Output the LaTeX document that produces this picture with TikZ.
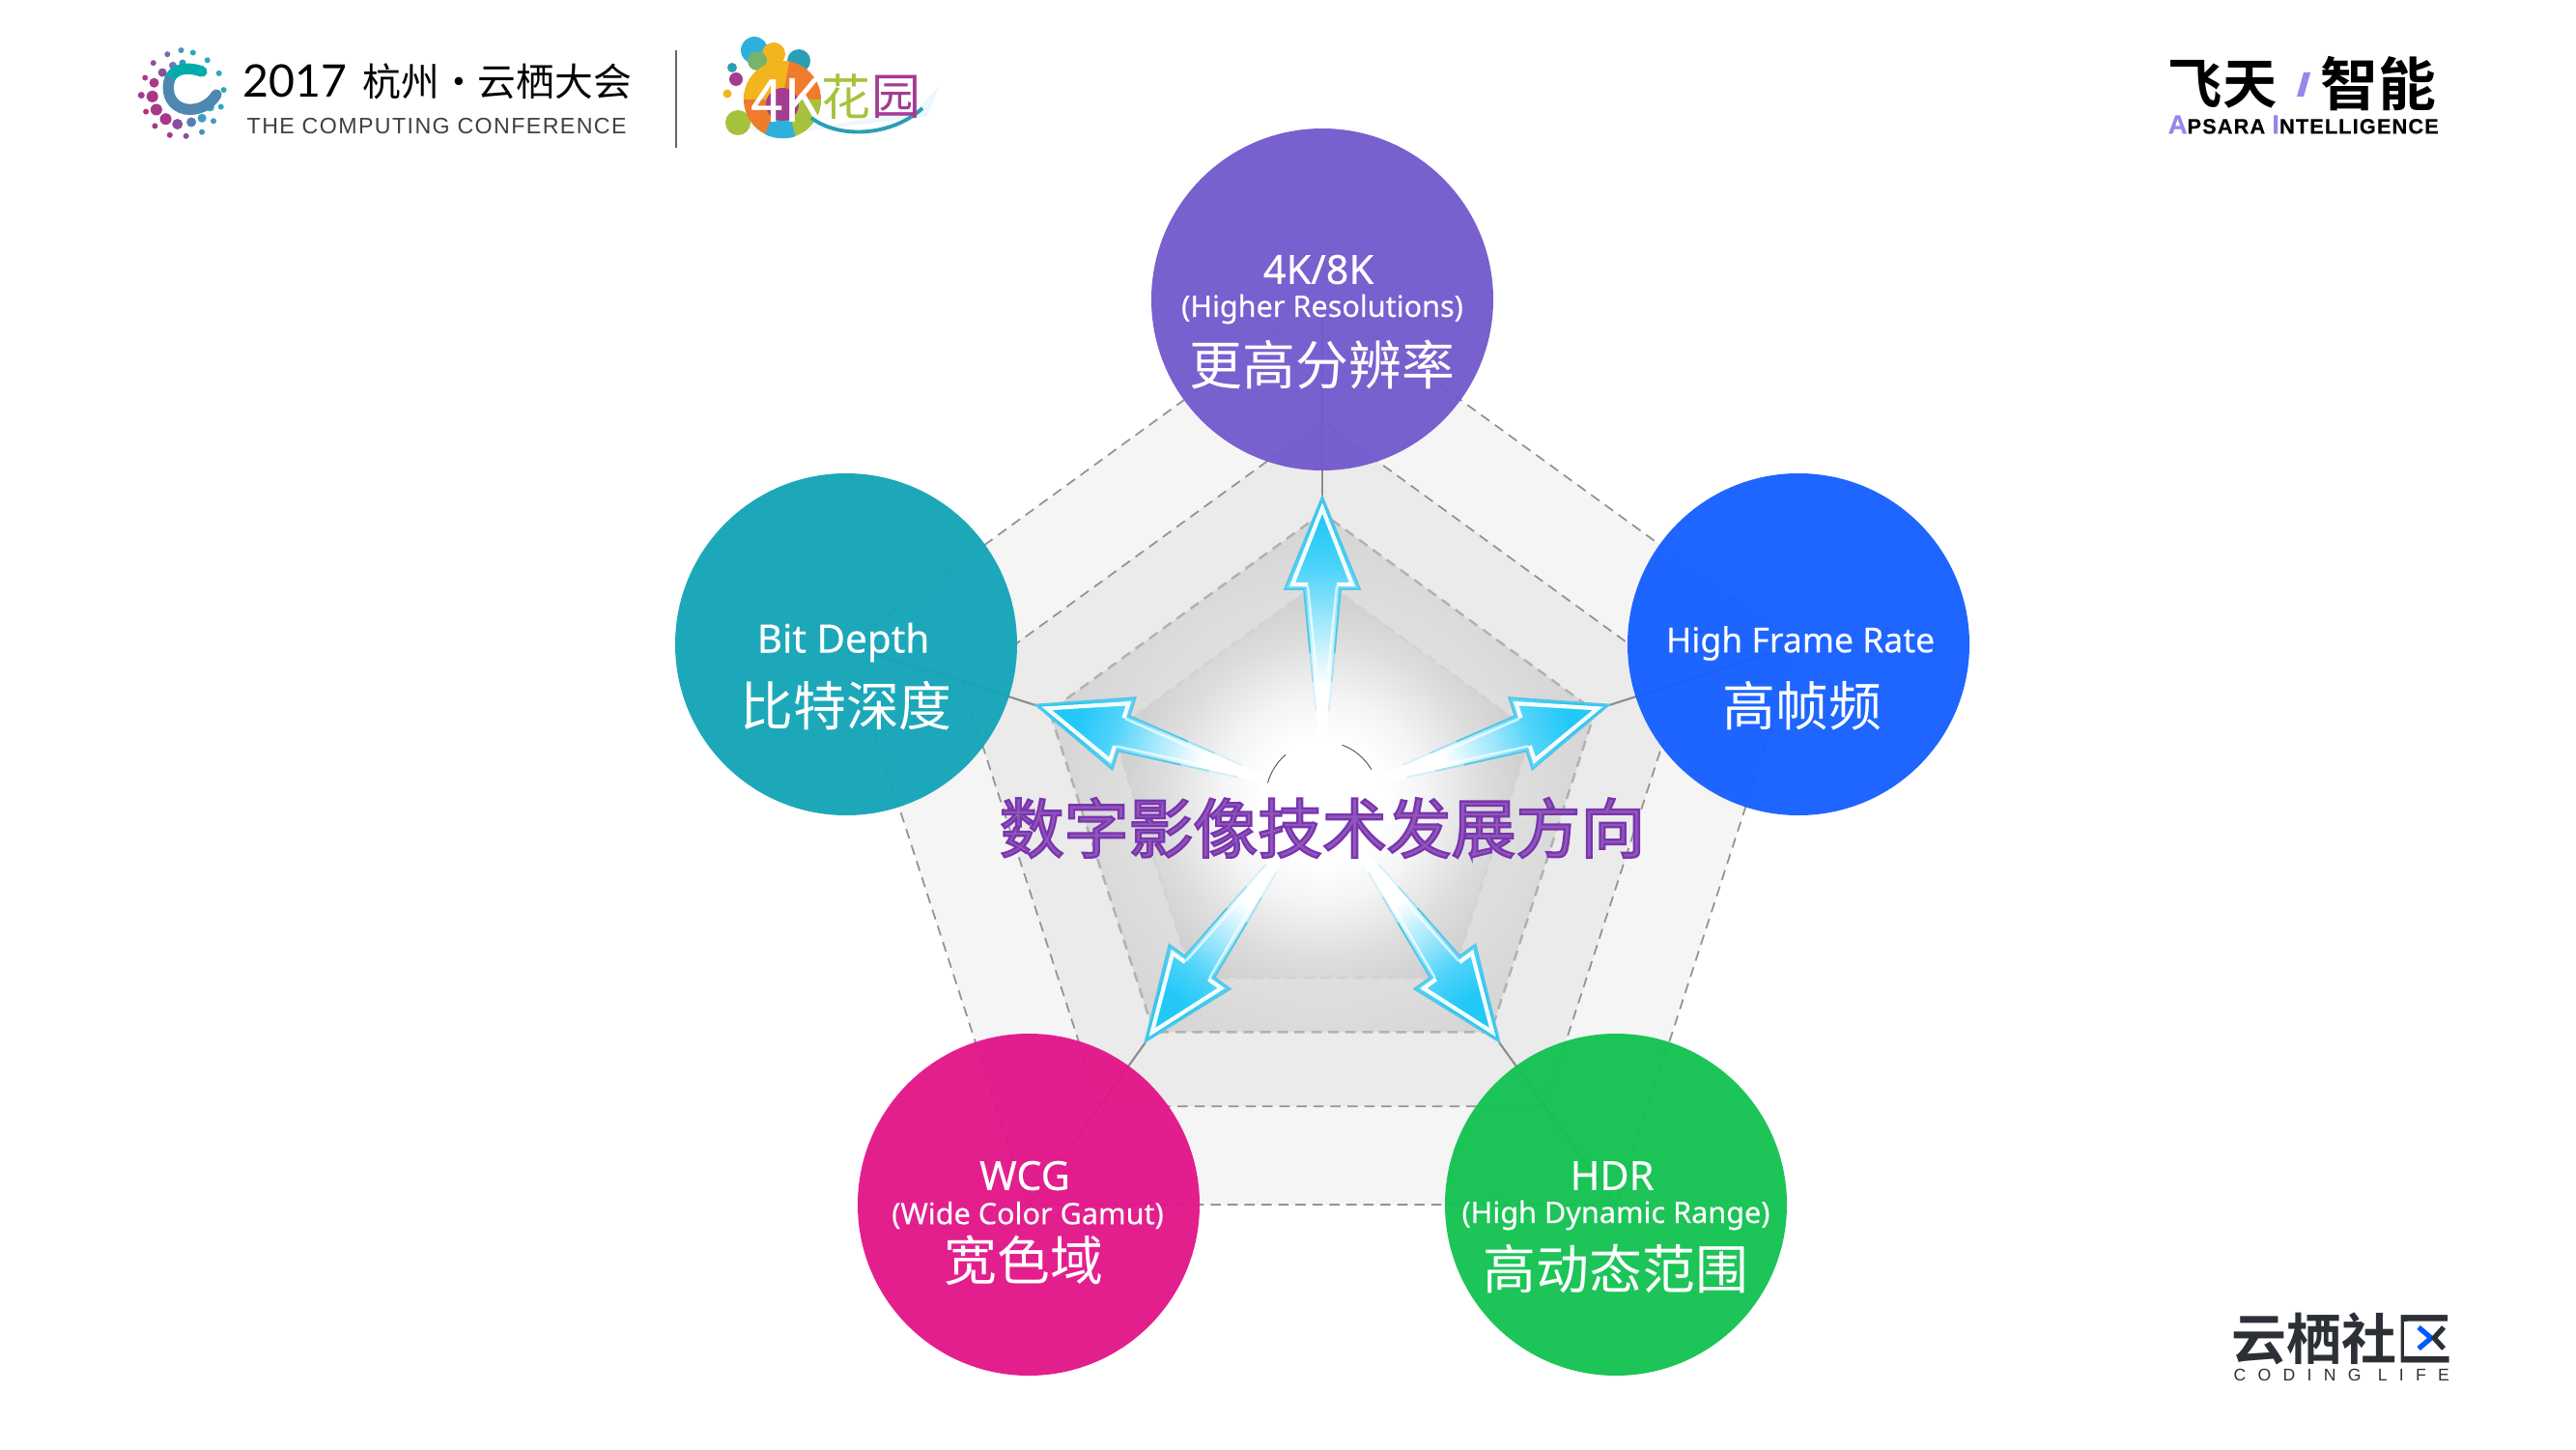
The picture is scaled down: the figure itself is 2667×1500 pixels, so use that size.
\documentclass[tikz,border=0pt]{standalone}
\usepackage{fontspec}
\usetikzlibrary{shadings,calc}
\setmainfont{Noto Sans}
\newfontfamily\enf{Noto Sans}[FakeBold=0.35]
\newfontfamily\cjk{Noto Sans CJK SC}
\newfontfamily\cjkb{Noto Sans CJK SC}[BoldFont={* Bold}]
\newfontfamily\lat{Lato}
\newfontfamily\capsf{Liberation Sans}[LetterSpace=6]
\newfontfamily\capsb{Liberation Sans Bold}[LetterSpace=5,FakeBold=0.3]
\newfontfamily\codef{Liberation Sans}[LetterSpace=70]
\definecolor{cpurple}{HTML}{745ACE}
\definecolor{cteal}{HTML}{14A5B8}
\definecolor{cblue}{HTML}{1560FF}
\definecolor{cpink}{HTML}{E2168A}
\definecolor{cgreen}{HTML}{14C252}
\definecolor{titlep}{HTML}{7A35AE}
\definecolor{dark}{HTML}{2C3036}
\definecolor{lav}{HTML}{9B84EC}
\definecolor{arrowc}{HTML}{22C8F8}
\definecolor{arrowl}{HTML}{55C6E6}
\pgfdeclareradialshading{glowinner}{\pgfpointorigin}{color(0bp)=(white);color(6.5bp)=(white);color(11bp)=(white!96!black);color(17bp)=(white!87!black);color(25bp)=(white!78!black);color(50bp)=(white!78!black)}
\pgfdeclareradialshading{glowthree}{\pgfpointorigin}{color(0bp)=(white!90!black);color(17bp)=(white!87!black);color(25bp)=(white!83!black);color(50bp)=(white!83!black)}
\pgfdeclareverticalshading{arrowgrad}{100bp}{color(0bp)=(white);color(36bp)=(white);color(50bp)=(arrowc!45);color(60bp)=(arrowc!80);color(70bp)=(arrowc);color(100bp)=(arrowc)}
\tikzset{
 px/.style={x=0.01cm,y=-0.01cm},
 bub/.style={circle,minimum size=354*0.01cm,inner sep=0pt,fill opacity=.96,text opacity=1,text=white,align=center},
 ringa/.style={draw=gray!85,densely dashed,line width=.5pt},
 ringb/.style={draw=gray!60,densely dashed,line width=.7pt},
 conn/.style={draw=gray!90,line width=.6pt},
 en/.style={font=\enf\fontsize{11.8}{12}\selectfont,text=white},
 enb/.style={font=\enf\fontsize{8.7}{12}\selectfont,text=white},
 zh/.style={font=\cjk\fontsize{15.6}{18}\selectfont,text=white},
 lbl/.style={inner sep=0pt,anchor=center},
}
\newcommand{\penta}[1]{(90:#1) -- (162:#1) -- (234:#1) -- (306:#1) -- (18:#1) -- cycle}
\newcommand{\arrowshape}[1]{%
 \begin{scope}[shift={(1369,826)},rotate=#1-90,x=0.01cm,y=0.01cm]
  \shade[shading=arrowgrad,shading angle=#1-90]
   (-4,62) -- (-19,216) -- (-39,216) -- (0,312) -- (39,216) -- (19,216) -- (4,62) -- cycle;
  \draw[white,line width=1.2pt,opacity=.95,line join=miter] (-15,221) -- (-31,221) -- (0,300) -- (31,221) -- (15,221);
  \draw[arrowl,line width=.55pt,line join=miter] (-12.6,150) -- (-19,216) -- (-39,216) -- (0,312) -- (39,216) -- (19,216) -- (12.6,150);
  \draw[arrowl!55,line width=.55pt] (-9.6,120) -- (-12.6,150);
  \draw[arrowl!55,line width=.55pt] (9.6,120) -- (12.6,150);
  \draw[arrowl!25,line width=.55pt] (-6.7,90) -- (-9.6,120);
  \draw[arrowl!25,line width=.55pt] (6.7,90) -- (9.6,120);
  \draw[white,line width=.7pt,opacity=.7] (-6,130) -- (-15,219);
  \draw[white,line width=.7pt,opacity=.7] (6,130) -- (15,219);
 \end{scope}}
\begin{document}
\begin{tikzpicture}[px]
\useasboundingbox (0,0) rectangle (2667,1500);
\fill[white] (0,0) rectangle (2667,1500);
% pentagons
\begin{scope}[shift={(1369,828)},x=0.01cm,y=0.01cm]
 \path[fill=white!96!black,ringa] \penta{518};
 \path[fill=white!92!black,ringa] \penta{392};
 \begin{scope}
  \clip \penta{297};
  \shade[shading=glowthree] (0,0) circle (300);
 \end{scope}
 \path[ringb] \penta{297};
 \begin{scope}
  \clip \penta{228};
  \shade[shading=glowinner] (0,0) circle (240);
 \end{scope}
 \path[ringb,draw=gray!35] \penta{228};
\end{scope}
% anchors
\coordinate (ctr) at (1369,828);
\coordinate (t1) at (1369,514);
\coordinate (t2) at (1072,730);
\coordinate (t3) at (1186,1079);
\coordinate (t4) at (1552,1079);
\coordinate (t5) at (1666,730);
\coordinate (c1) at (1369,310);
\coordinate (c2) at (876,667);
\coordinate (c3) at (1065,1247);
\coordinate (c4) at (1673,1247);
\coordinate (c5) at (1862,667);
\draw[conn] (c1) -- (t1);
\draw[conn] (c2) -- (t2);
\draw[conn] (c3) -- (t3);
\draw[conn] (c4) -- (t4);
\draw[conn] (c5) -- (t5);
\arrowshape{90}
\arrowshape{162}
\arrowshape{234}
\arrowshape{306}
\arrowshape{18}
\node[circle,fill=white,inner sep=0pt,minimum size=116*0.01cm] (hub) at (1369,826) {};
\draw[black!70,line width=.25pt] (hub.130) arc (-130:-165:58);
\draw[black!70,line width=.25pt] (hub.30) arc (-30:-70:58);
% circles
\node[bub,fill=cpurple] (n1) at (c1) {};
\node[bub,fill=cteal] (n2) at (c2) {};
\node[bub,fill=cpink] (n3) at (c3) {};
\node[bub,fill=cgreen] (n4) at (c4) {};
\node[bub,fill=cblue] (n5) at (c5) {};
\node[lbl,en] (l1a) at (1365,279) {4K/8K};
\node[lbl,enb] (l1b) at (1369,320) {(Higher Resolutions)};
\node[lbl,zh] (l1c) at (1369,378) {更高分辨率};
\node[lbl,en,font=\enf\fontsize{11.5}{12}\selectfont] (l2a) at (873,665) {Bit Depth};
\node[lbl,zh] (l2b) at (876,731) {比特深度};
\node[lbl,en,font=\enf\fontsize{10.1}{12}\selectfont] (l5a) at (1864,666) {High Frame Rate};
\node[lbl,zh] (l5b) at (1866,731) {高帧频};
\node[lbl,en] (l3a) at (1061,1217) {WCG};
\node[lbl,enb] (l3b) at (1064,1258) {(Wide Color Gamut)};
\node[lbl,zh] (l3c) at (1060,1305) {宽色域};
\node[lbl,en] (l4a) at (1669,1217) {HDR};
\node[lbl,enb] (l4b) at (1673,1258) {(High Dynamic Range)};
\node[lbl,zh] (l4c) at (1673,1313) {高动态范围};
% title
\node[lbl,text=titlep,font=\cjk\fontsize{19}{22}\selectfont] (title) at (1369,857) {\special{pdf:code 2 Tr 0.65 w 0.478 0.208 0.682 RG 0.56 0.34 0.73 rg}数字影像技术发展方向\special{pdf:code 0 Tr}};
% logo left
\foreach \a/\r/\s/\c in {75/44/3/2BA8C0,52/44/3/2BA8C0,28/45/3/2BA8C0,5/45/3/2BA8C0,-18/44/3/2BA8C0,-40/44/3/3A9CC0,-62/45/3/4A8CBC,-85/44/3/8A4C9E,-108/45/3/A03C90,-132/45/3/A83888,-155/44/3/B0327F,-178/45/3.5/A83A8C,158/44/3/A83A8C,135/45/3/8F5098,112/44/3/7A6CA8,92/45/3/4A98B8,
   -25/33/4.5/2BA8C0,-50/33/4.5/3A9CC0,-72/31/5/5A7CB8,-100/32/5.5/8A4C9E,-125/32/6/A83888,-150/33/6/A83888,-175/33/6/A83888,160/33/5/A83A8C,135/31/4.5/8A5098,110/31/4/6A7CB0,90/32/3.5/3A98BA}
  {\definecolor{dc}{HTML}{\c}\fill[dc] ($(189,97)+(\a:\r*0.95 and -\r)$) circle (\s);}
\draw[line width=3.2pt,line cap=round,draw=teal!65!cyan] (209,74) .. controls (192,68) and (178,72) .. (175,84);
\draw[line width=3.2pt,line cap=round,draw=violet!45!cyan!70!gray] (175,84) .. controls (172,98) and (178,110) .. (192,113) .. controls (206,115) and (218,108) .. (224,98);
\node[lbl,anchor=west,text=black,font=\lat\fontsize{13.2}{15}\selectfont] (lg1) at (251,84) {2017};
\node[lbl,anchor=west,text=black,font=\cjk\fontsize{11.3}{15}\selectfont] (lg2) at (375,84) {杭州·云栖大会};
\node[lbl,anchor=west,text=black!75,font=\capsf\fontsize{6.6}{8}\selectfont] (lg3) at (255,131) {THE COMPUTING CONFERENCE};
\coordinate (d1) at (700,52);
\coordinate (d2) at (700,153);
\draw[gray!80!black,line width=.6pt] (d1) -- (d2);
% 4K logo
\definecolor{kblue}{HTML}{2FB0DC}
\definecolor{kyel}{HTML}{F2B51E}
\definecolor{kgrn}{HTML}{A6C23C}
\definecolor{kora}{HTML}{EE7C2C}
\definecolor{kmag}{HTML}{A43C92}
\definecolor{kteal}{HTML}{2C9EB4}
\fill[cyan!8] (756,128) -- (800,140) -- (960,120) -- (972,90) -- (950,112) -- (860,130) -- (790,110) -- cycle;
\fill[kblue] (781,52) circle (14);
\fill[kyel] (801,56) circle (12);
\fill[kgrn!60!kteal] (784,63) circle (10);
\fill[kteal] (827,63) circle (12);
\fill[kteal] (758,70) circle (5);
\fill[kmag] (762,82) circle (7);
\fill[kyel] (753,97) circle (4.5);
\fill[kgrn] (764,127) circle (13);
\fill[kora] (810,103) circle (40);
\fill[kyel] (770,103) arc (180:280:40) -- (810,103) -- cycle;
\fill[kgrn] (810,143) arc (90:0:40) -- (810,103) -- cycle;
\fill[kblue] (792,139) arc (116:72:42) -- (818,120) -- (800,120) -- cycle;
\fill[kmag] (810,108) circle (17);
\node[lbl,text=white,font=\cjk\fontsize{17.5}{18}\selectfont] (k4) at (814,104) {4K};
\draw[kteal,line width=1.1pt] (840,122) .. controls (870,145) and (925,140) .. (955,112);
\node[lbl,text=kgrn,font=\cjk\fontsize{14.5}{15}\selectfont] (k5) at (876,100) {花};
\node[lbl,text=kmag,font=\cjk\fontsize{14.5}{15}\selectfont] (k6) at (928,100) {园};
% top right
\node[lbl,anchor=west,text=black,font=\cjkb\bfseries\fontsize{16}{18}\selectfont] (f1) at (2244,87) {飞天};
\fill[lav] (2378,100) -- (2385,100) -- (2392,75) -- (2385,75) -- cycle;
\node[lbl,anchor=west,text=black,font=\cjkb\bfseries\fontsize{17}{18}\selectfont] (f2) at (2402,87) {智能};
\node[lbl,anchor=west,text=black,font=\capsb\fontsize{6.2}{8}\selectfont] (f3) at (2244,129) {\textcolor{lav}{\fontsize{7.8}{8}\selectfont A}PSARA \textcolor{lav}{\fontsize{7.8}{8}\selectfont I}NTELLIGENCE};
% bottom right
\node[lbl,anchor=west,text=dark,font=\cjkb\bfseries\fontsize{16.2}{18}\selectfont] (g1) at (2310,1386) {云栖社区};
\fill[white] (2489,1368) rectangle (2536,1404);
\draw[line width=1.5pt,blue!65!cyan] (2504,1374) -- (2517,1385) -- (2504,1396);
\draw[line width=1.5pt,dark] (2530,1374) -- (2520,1385) -- (2530,1396);
\node[lbl,anchor=west,text=dark,font=\codef\fontsize{5}{6}\selectfont] (g2) at (2312,1423) {CODING LIFE};
\end{tikzpicture}
\end{document}
